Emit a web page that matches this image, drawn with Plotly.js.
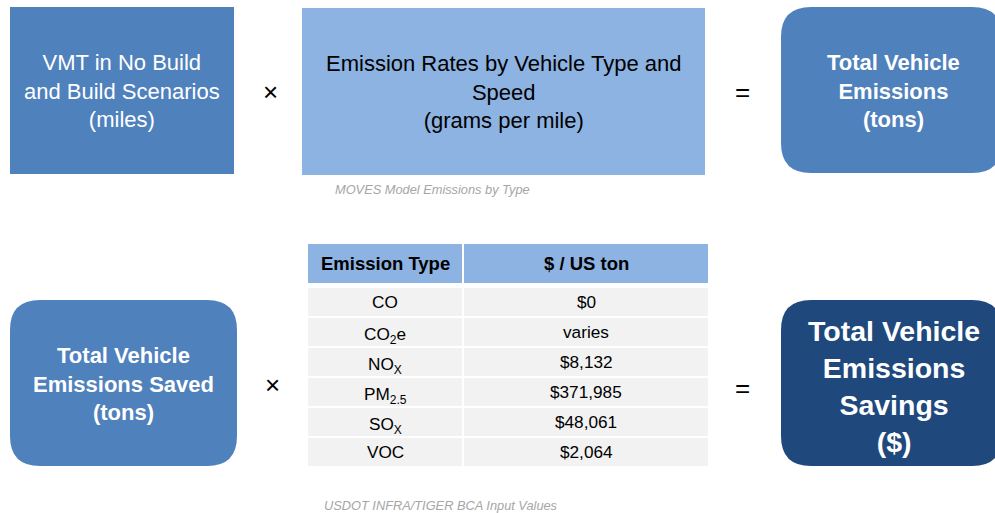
<!DOCTYPE html>
<html>
<head>
<meta charset="utf-8">
<script src="https://cdn.plot.ly/plotly-3.0.1.min.js"></script>
<style>
  html, body { margin: 0; padding: 0; background: #fff; }
  #chart { width: 995px; height: 513px; }
</style>
</head>
<body>
<div id="chart"></div>
<script>
// Diagrama de calcul al emisiilor: doua "ecuatii" cu cutii + tabel cu costuri.
// Axele sunt in pixeli (0..995, 0..513, y inversat) ca pozitionarea sa fie simpla.

const emissionTypes = ['CO', 'CO<sub>2</sub>e', 'NO<sub>X</sub>', 'PM<sub>2.5</sub>', 'SO<sub>X</sub>', 'VOC'];
const costPerTon    = ['$0', 'varies', '$8,132', '$371,985', '$48,061', '$2,064'];
const tableHeader   = ['Emission Type', '$ / US ton'];

const topLabels = [
  'VMT in No Build<br>and Build Scenarios<br>(miles)',
  'Emission Rates by Vehicle Type and<br>Speed<br>(grams per mile)',
  '<b>Total Vehicle<br>Emissions<br>(tons)</b>',
];
const bottomLabels = [
  '<b>Total Vehicle<br>Emissions Saved<br>(tons)</b>',
  '<b>Total Vehicle<br>Emissions<br>Savings<br>($)</b>',
];
const captions = ['MOVES Model Emissions by Type', 'USDOT INFRA/TIGER BCA Input Values'];

const W = 995, H = 513;
const FONT = 'Liberation Sans, Arial, sans-serif';
const MID = '#4F81BD', LIGHT = '#8DB3E2', DARK = '#1F497D', ROW = '#F2F2F2';

// tabel: coloane si randuri (pixeli)
const COLS = [[308, 462], [464, 708]];
const HEAD_Y = [244, 283];
const BODY_TOP = 288, ROW_H = 30, ROW_GAP = 2;

function roundRect(x0, y0, x1, y1, r) {
  return 'M' + (x0 + r) + ',' + y0 +
    ' L' + (x1 - r) + ',' + y0 + ' Q' + x1 + ',' + y0 + ' ' + x1 + ',' + (y0 + r) +
    ' L' + x1 + ',' + (y1 - r) + ' Q' + x1 + ',' + y1 + ' ' + (x1 - r) + ',' + y1 +
    ' L' + (x0 + r) + ',' + y1 + ' Q' + x0 + ',' + y1 + ' ' + x0 + ',' + (y1 - r) +
    ' L' + x0 + ',' + (y0 + r) + ' Q' + x0 + ',' + y0 + ' ' + (x0 + r) + ',' + y0 + ' Z';
}

const shapes = [
  { type: 'rect', x0: 10, x1: 234, y0: 7, y1: 174, fillcolor: MID, line: { width: 0 } },
  { type: 'rect', x0: 302, x1: 705, y0: 8, y1: 175, fillcolor: LIGHT, line: { width: 0 } },
  { type: 'path', path: roundRect(781, 7, 1002, 173, 30), fillcolor: MID, line: { width: 0 } },
  { type: 'path', path: roundRect(10, 300, 237, 466, 30), fillcolor: MID, line: { width: 0 } },
  { type: 'path', path: roundRect(781, 300, 1002, 466, 30), fillcolor: DARK, line: { width: 0 } },
];

const ann = (x, y, text, size, color, extra) => Object.assign({
  x: x, y: y, xref: 'x', yref: 'y', text: text, showarrow: false,
  font: { family: FONT, size: size, color: color }, align: 'center',
  xanchor: 'center', yanchor: 'middle',
}, extra || {});

const annotations = [
  ann(122, 91, topLabels[0], 22, '#ffffff'),
  ann(503, 92, topLabels[1], 22, '#000000'),
  ann(893, 91, topLabels[2], 22, '#ffffff'),
  ann(123, 384, bottomLabels[0], 22, '#ffffff'),
  ann(894, 386, bottomLabels[1], 28.5, '#ffffff'),
  ann(270, 92, '×', 26, '#000000'),
  ann(742, 92, '=', 26, '#000000'),
  ann(272, 385, '×', 26, '#000000'),
  ann(742, 388, '=', 26, '#000000'),
  ann(432, 189, '<i>' + captions[0] + '</i>', 12.8, '#A6A6A6'),
  ann(441, 505, '<i>' + captions[1] + '</i>', 12.8, '#A6A6A6'),
];

// header tabel
tableHeader.forEach((h, c) => {
  shapes.push({ type: 'rect', x0: COLS[c][0], x1: COLS[c][1], y0: HEAD_Y[0], y1: HEAD_Y[1],
    fillcolor: LIGHT, line: { width: 0 } });
  annotations.push(ann((COLS[c][0] + COLS[c][1]) / 2, (HEAD_Y[0] + HEAD_Y[1]) / 2,
    '<b>' + h + '</b>', 18.5, '#000000'));
});

// randuri tabel
[emissionTypes, costPerTon].forEach((col, c) => {
  col.forEach((v, i) => {
    const y0 = BODY_TOP + i * ROW_H, y1 = y0 + ROW_H - ROW_GAP;
    shapes.push({ type: 'rect', x0: COLS[c][0], x1: COLS[c][1], y0: y0, y1: y1,
      fillcolor: ROW, line: { width: 0 } });
    const hasSub = v.indexOf('<sub>') >= 0;
    annotations.push(ann((COLS[c][0] + COLS[c][1]) / 2, (y0 + y1) / 2, v, 17.2, '#000000',
      hasSub ? { yshift: -3 } : {}));
  });
});

shapes.forEach(s => { s.xref = 'x'; s.yref = 'y'; s.layer = 'below'; });

const traces = [
  // trace gol doar ca sa existe axele cartesiene pentru shapes
  { type: 'scatter', x: [], y: [], hoverinfo: 'skip', showlegend: false },
];

const layout = {
  width: W, height: H,
  margin: { l: 0, r: 0, t: 0, b: 0 },
  xaxis: { range: [0, W], visible: false, fixedrange: true },
  yaxis: { range: [H, 0], visible: false, fixedrange: true },
  shapes: shapes,
  annotations: annotations,
  showlegend: false,
  plot_bgcolor: '#ffffff',
  paper_bgcolor: '#ffffff',
};

Plotly.newPlot('chart', traces, layout, { displayModeBar: false, staticPlot: true });
</script>
</body>
</html>
